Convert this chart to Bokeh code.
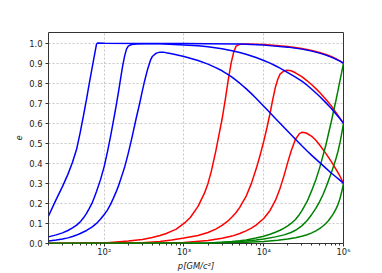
from bokeh.plotting import figure
from bokeh.models import FixedTicker, PrintfTickFormatter, CustomJSTickFormatter, Range1d
from bokeh.embed import file_html
from bokeh.resources import INLINE

# ---- data: semi-latus rectum p [GM/c^2] and eccentricity e ----
blue1_p = [20, 25, 30, 35, 40, 45, 50, 55, 60, 65, 70, 75, 80, 82, 100, 300, 1000, 2000, 5000,
           10000, 20000, 30000, 40000, 50000, 60000, 70000, 80000, 90000, 100000]
blue1_e = [0.137, 0.22, 0.285, 0.345, 0.405, 0.47, 0.555, 0.64, 0.72, 0.80, 0.87, 0.935, 0.995, 1.0, 0.999, 0.998, 0.998, 0.997, 0.995,
           0.99, 0.98, 0.97, 0.96, 0.95, 0.94, 0.93, 0.92, 0.91, 0.9]

blue2_p = [20, 25, 30, 35, 40, 45, 50, 55, 60, 65, 70, 75, 80, 90, 100, 110, 120, 130, 140, 150, 160, 170, 180, 190,
           200, 220, 250, 300, 500, 1000, 1500, 2000, 3000, 4000, 5000, 6000, 7000, 8000, 10000, 12000, 14000,
           16000, 20000, 25000, 30000, 35000, 40000, 50000, 60000, 70000, 80000, 90000, 100000]
blue2_e = [0.033, 0.043, 0.053, 0.065, 0.078, 0.092, 0.108, 0.128, 0.15, 0.175, 0.20, 0.23, 0.26, 0.32, 0.385, 0.46, 0.535, 0.61, 0.68, 0.75, 0.82, 0.885, 0.935, 0.97,
           0.985, 0.993, 0.996, 0.997, 0.997, 0.991, 0.987, 0.982, 0.972, 0.962, 0.953, 0.944, 0.936, 0.928, 0.913, 0.90, 0.887,
           0.875, 0.853, 0.83, 0.81, 0.79, 0.77, 0.735, 0.703, 0.675, 0.648, 0.624, 0.6]

blue3_p = [20, 25, 30, 35, 40, 45, 50, 60, 70, 80, 90, 100, 110, 120, 130, 140, 150, 160, 170, 180, 200, 220, 250, 280,
           300, 320, 350, 380, 400, 450, 500, 550, 600, 700, 800, 1000, 1500, 2000, 2500, 3000, 3500, 4000, 5000,
           6000, 7000, 8000, 10000, 12000, 14000, 16000, 20000, 25000, 30000, 35000, 40000, 50000, 60000, 70000,
           80000, 90000, 100000]
blue3_e = [0.013, 0.017, 0.022, 0.028, 0.035, 0.042, 0.05, 0.065, 0.082, 0.10, 0.122, 0.145, 0.168, 0.195, 0.225, 0.255, 0.285, 0.318, 0.35, 0.38, 0.45, 0.52, 0.62, 0.705,
           0.76, 0.81, 0.87, 0.915, 0.933, 0.95, 0.955, 0.955, 0.952, 0.947, 0.942, 0.933, 0.913, 0.895, 0.878, 0.862, 0.845, 0.83, 0.80,
           0.773, 0.748, 0.725, 0.685, 0.652, 0.624, 0.60, 0.56, 0.52, 0.488, 0.462, 0.44, 0.405, 0.376, 0.352,
           0.333, 0.316, 0.3]

red1_p = [20, 50, 100, 200, 300, 400, 500, 600, 700, 800, 1000, 1200, 1500, 1800, 2000, 2200, 2500, 2800, 3000,
          3300, 3600, 3900, 4200, 4500, 5000, 6000, 10000, 20000, 30000, 40000, 50000, 60000, 70000, 80000, 90000, 100000]
red1_e = [0.0, 0.001, 0.003, 0.012, 0.02, 0.03, 0.04, 0.05, 0.062, 0.072, 0.10, 0.13, 0.185, 0.25, 0.30, 0.36, 0.46, 0.56, 0.62,
          0.72, 0.82, 0.90, 0.955, 0.985, 0.994, 0.996, 0.993, 0.983, 0.973, 0.963, 0.953, 0.943, 0.933, 0.922, 0.911, 0.9]

red2_p = [20, 300, 500, 700, 1000, 1500, 2000, 2500, 3000, 3500, 4000, 4500, 5000, 6000, 7000, 8000, 9000, 10000,
          11000, 12000, 13000, 14000, 15000, 16000, 18000, 20000, 22000, 25000, 30000, 35000, 40000, 45000, 50000,
          60000, 70000, 80000, 90000, 100000]
red2_e = [0.0, 0.004, 0.01, 0.018, 0.027, 0.04, 0.055, 0.072, 0.09, 0.11, 0.132, 0.155, 0.18, 0.235, 0.30, 0.37, 0.44, 0.51,
          0.58, 0.65, 0.72, 0.78, 0.82, 0.845, 0.862, 0.865, 0.862, 0.852, 0.833, 0.812, 0.792, 0.773, 0.755,
          0.72, 0.688, 0.655, 0.626, 0.6]

red3_p = [20, 500, 1000, 2000, 3000, 4000, 5000, 6000, 7000, 8000, 10000, 12000, 14000, 16000, 18000, 20000, 22000,
          25000, 28000, 30000, 33000, 35000, 40000, 45000, 50000, 60000, 70000, 80000, 90000, 100000]
red3_e = [0.0, 0.002, 0.005, 0.015, 0.026, 0.037, 0.05, 0.063, 0.077, 0.092, 0.125, 0.165, 0.215, 0.275, 0.34, 0.405, 0.46,
          0.52, 0.548, 0.555, 0.553, 0.549, 0.535, 0.515, 0.493, 0.45, 0.41, 0.372, 0.337, 0.3]

green1_p = [20, 1000, 2000, 3000, 4000, 5000, 6000, 8000, 10000, 12000, 14000, 16000, 18000, 20000, 22000, 25000, 28000,
            30000, 35000, 40000, 45000, 50000, 55000, 60000, 65000, 70000, 75000, 80000, 85000, 90000, 95000, 100000]
green1_e = [0.0, 0.0, 0.003, 0.006, 0.01, 0.014, 0.018, 0.027, 0.036, 0.046, 0.056, 0.066, 0.077, 0.088, 0.10, 0.12, 0.145,
            0.163, 0.21, 0.265, 0.318, 0.375, 0.435, 0.49, 0.55, 0.605, 0.66, 0.71, 0.76, 0.81, 0.855, 0.9]

green2_p = [20, 2000, 4000, 6000, 8000, 10000, 14000, 18000, 22000, 25000, 30000, 35000, 40000, 45000, 50000, 55000,
            60000, 65000, 70000, 75000, 80000, 85000, 90000, 95000, 100000]
green2_e = [0.0, 0.002, 0.007, 0.012, 0.017, 0.022, 0.033, 0.043, 0.055, 0.066, 0.088, 0.115, 0.145, 0.175, 0.208, 0.242,
            0.278, 0.315, 0.35, 0.385, 0.42, 0.458, 0.50, 0.55, 0.6]

green3_p = [20, 3000, 6000, 10000, 15000, 20000, 25000, 30000, 35000, 40000, 45000, 50000, 55000, 60000, 65000, 70000,
            75000, 80000, 85000, 90000, 95000, 100000]
green3_e = [0.0, 0.002, 0.006, 0.01, 0.016, 0.022, 0.029, 0.036, 0.044, 0.053, 0.063, 0.074, 0.086, 0.10, 0.115, 0.132,
            0.15, 0.17, 0.193, 0.222, 0.258, 0.3]

x_major_ticks = [100, 1000, 10000, 100000]
x_minor_ticks = [20, 30, 40, 50, 60, 70, 80, 90,
                 200, 300, 400, 500, 600, 700, 800, 900,
                 2000, 3000, 4000, 5000, 6000, 7000, 8000, 9000,
                 20000, 30000, 40000, 50000, 60000, 70000, 80000, 90000]
y_ticks = [0.0, 0.1, 0.2, 0.3, 0.4, 0.5, 0.6, 0.7, 0.8, 0.9, 1.0]

FONT = "DejaVu Sans"
FS = "8.4px"

p = figure(width=382, height=273, x_axis_type="log",
           x_range=Range1d(20, 100000), y_range=Range1d(0, 1.053),
           output_backend="svg", toolbar_location=None,
           min_border_left=48, min_border_right=39, min_border_top=32, min_border_bottom=30)

p.background_fill_color = "white"
p.border_fill_color = "white"
p.outline_line_color = "#333333"
p.outline_line_width = 1

lw = 1.5
for xs, ys in [(red1_p, red1_e), (red2_p, red2_e), (red3_p, red3_e)]:
    p.line(xs, ys, line_color="red", line_width=lw)
for xs, ys in [(green1_p, green1_e), (green2_p, green2_e), (green3_p, green3_e)]:
    p.line(xs, ys, line_color="green", line_width=lw)
for xs, ys in [(blue1_p, blue1_e), (blue2_p, blue2_e), (blue3_p, blue3_e)]:
    p.line(xs, ys, line_color="blue", line_width=lw)

# axes
p.xaxis.ticker = FixedTicker(ticks=x_major_ticks, minor_ticks=x_minor_ticks)
p.xaxis.formatter = CustomJSTickFormatter(code="""
const sup = {'0':'\u2070','1':'\u00b9','2':'\u00b2','3':'\u00b3','4':'\u2074','5':'\u2075','6':'\u2076','7':'\u2077','8':'\u2078','9':'\u2079'};
const k = String(Math.round(Math.log10(tick)));
return '10' + k.split('').map(c => sup[c]).join('');
""")
p.yaxis.ticker = FixedTicker(ticks=y_ticks)
p.yaxis.formatter = PrintfTickFormatter(format="%.1f")

for ax in (p.xaxis, p.yaxis):
    ax.axis_line_color = None
    ax.major_tick_line_color = "#333333"
    ax.major_tick_out = 3
    ax.major_tick_in = 0
    ax.minor_tick_line_color = "#333333"
    ax.minor_tick_out = 2
    ax.minor_tick_in = 0
    ax.major_label_text_font = FONT
    ax.major_label_text_font_size = FS
    ax.major_label_text_color = "#222222"
    ax.axis_label_text_font = FONT
    ax.axis_label_text_font_size = FS
    ax.axis_label_text_font_style = "italic"
    ax.axis_label_text_color = "#222222"
p.yaxis.minor_tick_line_color = None
p.yaxis.major_label_standoff = 3
p.xaxis.major_label_standoff = 0
p.xaxis.axis_label_standoff = 1
p.yaxis.axis_label_standoff = 4
p.xaxis.axis_label = "p[GM/c\u00b2]"
p.yaxis.axis_label = "e"

p.xgrid.grid_line_color = "#b8b8b8"
p.ygrid.grid_line_color = "#b8b8b8"
p.xgrid.grid_line_dash = "2 2"
p.ygrid.grid_line_dash = "2 2"
p.xgrid.grid_line_width = 0.8
p.ygrid.grid_line_width = 0.8

open("out.html", "w").write(file_html(p, INLINE))
